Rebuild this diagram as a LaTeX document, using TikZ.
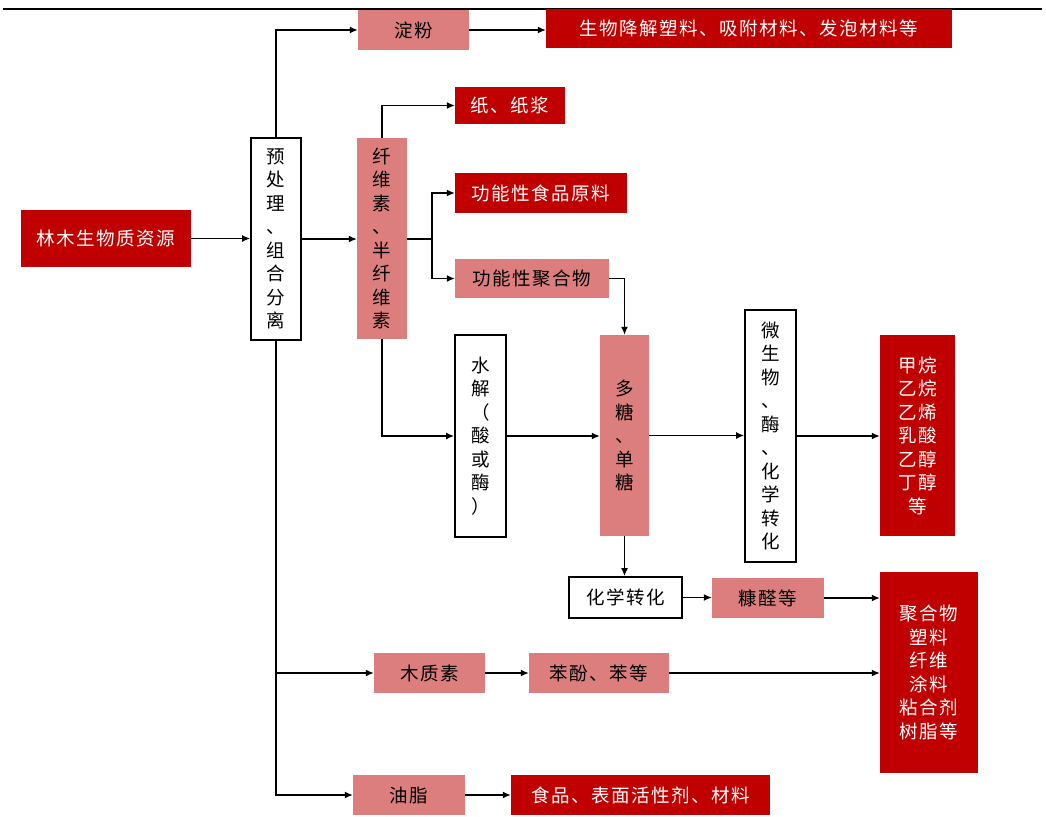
\documentclass[tikz,border=0pt]{standalone}
\usepackage{fontspec}
\setmainfont{Noto Sans CJK SC}[LetterSpace=8]
\usetikzlibrary{arrows.meta}
\definecolor{rd}{RGB}{192,0,0}
\definecolor{pk}{RGB}{221,126,126}
\tikzset{
  base/.style={inner sep=0pt, align=center, font=\fontsize{18.5}{23.5}\selectfont},
  redbox/.style={base, fill=rd, text=white},
  pinkbox/.style={base, fill=pk, text=black},
  whitebox/.style={base, draw=black, line width=1.8pt, fill=white, text=black},
  arr/.style={line width=1.3pt, -{Latex[length=8pt,width=7pt]}},
  ln/.style={line width=1.3pt},
}
\begin{document}
\begin{tikzpicture}[x=1pt,y=-1pt]
\useasboundingbox (0,0) rectangle (1046,816);
\draw[line width=2.5pt] (3,9) -- (1042,9);
% nodes
\node[pinkbox, minimum width=111, minimum height=40] (dianfen) at (413.5,30) {淀粉};
\node[redbox, minimum width=406, minimum height=39] (top) at (749,28.5) {生物降解塑料、吸附材料、发泡材料等};
\node[redbox, minimum width=170, minimum height=57] (src) at (106,238.5) {林木生物质资源};
\node[whitebox, minimum width=50, minimum height=202] (pre) at (276,239) {预\\处\\理\\、\\组\\合\\分\\离};
\node[pinkbox, minimum width=50, minimum height=201] (cell) at (382,238.5) {纤\\维\\素\\、\\半\\纤\\维\\素};
\node[redbox, minimum width=110, minimum height=37] (paper) at (510,105.5) {纸、纸浆};
\node[redbox, minimum width=172, minimum height=40] (food) at (541,193) {功能性食品原料};
\node[pinkbox, minimum width=154, minimum height=39] (poly) at (532,278.5) {功能性聚合物};
\node[whitebox, minimum width=51, minimum height=202] (hyd) at (480.5,436) {水\\解\\（\\酸\\或\\酶\\）};
\node[pinkbox, minimum width=49, minimum height=201] (sugar) at (624.5,435.5) {多\\糖\\、\\单\\糖};
\node[whitebox, minimum width=51, minimum height=252] (micro) at (770.5,436) {微\\生\\物\\、\\酶\\、\\化\\学\\转\\化};
\node[redbox, minimum width=75, minimum height=201] (fuel) at (917.5,435.5) {甲烷\\乙烷\\乙烯\\乳酸\\乙醇\\丁醇\\等};
\node[whitebox, minimum width=113, minimum height=41] (chem) at (625.5,597.5) {化学转化};
\node[pinkbox, minimum width=112, minimum height=40] (furf) at (768,598) {糠醛等};
\node[redbox, minimum width=98, minimum height=201] (mat) at (929,672.5) {聚合物\\塑料\\纤维\\涂料\\粘合剂\\树脂等};
\node[pinkbox, minimum width=111, minimum height=40] (lig) at (429.5,673) {木质素};
\node[pinkbox, minimum width=140, minimum height=40] (ben) at (599,673) {苯酚、苯等};
\node[pinkbox, minimum width=112, minimum height=40] (oil) at (409,795) {油脂};
\node[redbox, minimum width=259, minimum height=40] (food2) at (640.5,795) {食品、表面活性剂、材料};
% connectors
\draw[arr] (pre.north) |- (dianfen.west);
\draw[arr] (dianfen.east) -- (dianfen.east -| top.west);
\draw[arr] (src.east) -- (src.east -| pre.west);
\draw[arr] (pre.east) -- (pre.east -| cell.west);
\draw[arr] (cell.north) |- (paper.west);
\coordinate (j) at (432,239);
\draw[ln] (cell.east |- j) -- (j);
\draw[arr] (j) |- (food.west);
\draw[arr] (j) |- (poly.west);
\draw[arr] (poly.east) -| (sugar.north);
\draw[arr] (cell.south) |- (hyd.west);
\draw[arr] (hyd.east) -- (hyd.east -| sugar.west);
\draw[arr] (sugar.east) -- (sugar.east -| micro.west);
\draw[arr] (micro.east) -- (micro.east -| fuel.west);
\draw[arr] (sugar.south) -- (sugar.south |- chem.north);
\draw[arr] (chem.east) -- (chem.east -| furf.west);
\draw[arr] (furf.east) -- (furf.east -| mat.west);
\draw[arr] (pre.south) |- (oil.west);
\draw[arr] (pre.south |- lig.west) -- (lig.west);
\draw[arr] (lig.east) -- (ben.west);
\draw[arr] (ben.east) -- (ben.east -| mat.west);
\draw[arr] (oil.east) -- (food2.west);
\end{tikzpicture}
\end{document}
